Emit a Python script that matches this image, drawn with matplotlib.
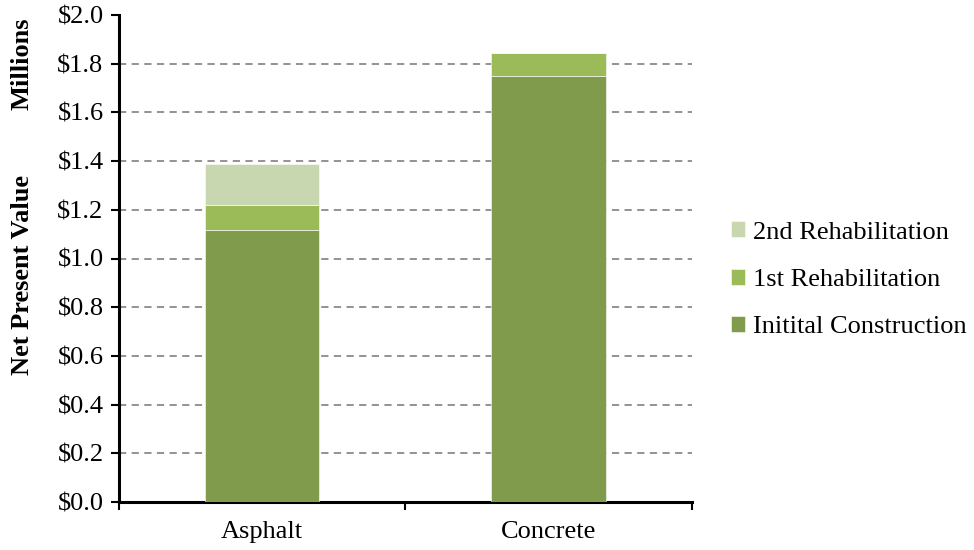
import matplotlib
matplotlib.use("Agg")
import matplotlib.pyplot as plt
import numpy as np
from matplotlib.ticker import FuncFormatter

plt.rcParams['font.family'] = ['Liberation Serif', 'DejaVu Serif']

categories = ["Asphalt", "Concrete"]
series_names = ["Initital Construction", "1st Rehabilitation", "2nd Rehabilitation"]
initial_construction = [1.116, 1.751]
first_rehab = [0.104, 0.092]
second_rehab = [0.168, 0.0]
colors = ["#7F9B4B", "#9BBB59", "#C9D7B0"]

fig = plt.figure(figsize=(9.74, 5.5), dpi=100)
ax = fig.add_axes([0.122, 0.0873, 0.588, 0.8854])

x = np.arange(len(categories))
bottom = np.zeros(len(categories))
handles = []
for name, vals, c in zip(series_names, [initial_construction, first_rehab, second_rehab], colors):
    vals = np.array(vals)
    h = ax.bar(x, vals, width=0.4, bottom=bottom, color=c, label=name,
               edgecolor="white", linewidth=0.4, zorder=3)
    handles.append(h)
    bottom += vals

ax.set_xlim(-0.5, 1.5)
ax.set_ylim(0, 2.0)
ax.set_yticks(np.arange(0, 2.01, 0.2))
ax.yaxis.set_major_formatter(FuncFormatter(lambda v, p: f"${v:.1f}"))
ax.set_xticks(x)
ax.set_xticklabels(categories)
ax.set_xticks([-0.5, 0.5, 1.5], minor=True)
ax.tick_params(axis='x', which='major', length=0, labelsize=19, pad=14)
ax.tick_params(axis='x', which='minor', length=6, width=1.5, direction='out')
ax.tick_params(axis='y', length=6, width=1.5, direction='out', labelsize=19, pad=5)

for v in np.arange(0.2, 1.81, 0.2):
    ax.axhline(v, color="#8A8A8A", linestyle=(0, (4, 3)), linewidth=1.3, zorder=1)

for s in ["top", "right"]:
    ax.spines[s].set_visible(False)
for s in ["left", "bottom"]:
    ax.spines[s].set_linewidth(2.2)

fig.text(0.023, 0.50, "Net Present Value", rotation=90, ha="center", va="center",
         fontsize=19, fontweight="bold")
fig.text(0.023, 0.885, "Millions", rotation=90, ha="center", va="center",
         fontsize=19, fontweight="bold")

leg = ax.legend(handles[::-1], series_names[::-1], loc="center left",
                bbox_to_anchor=(1.05, 0.456), frameon=False, fontsize=19,
                handlelength=0.55, handleheight=0.55, handletextpad=0.3,
                labelspacing=0.95, borderaxespad=0.0)

fig.savefig("out.png", dpi=100)
